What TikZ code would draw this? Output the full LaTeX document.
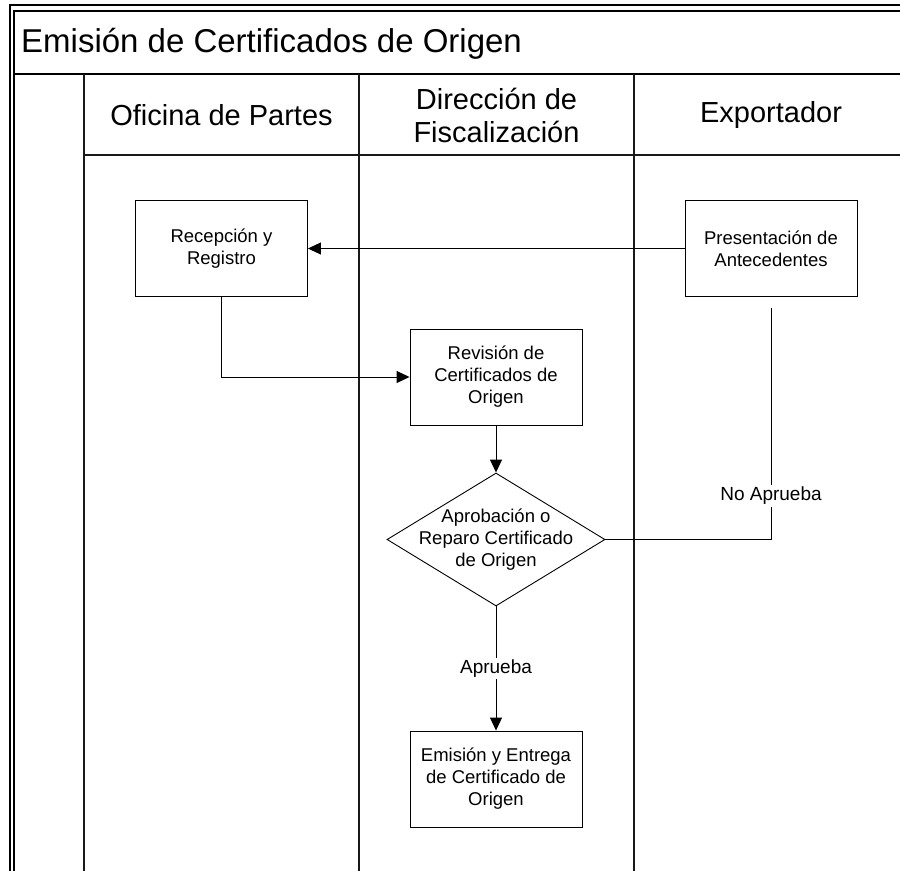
\documentclass[tikz,border=0pt]{standalone}
\usepackage{fontspec}
\setmainfont{Liberation Sans}
\usetikzlibrary{arrows.meta,shapes.geometric}
\begin{document}
\begin{tikzpicture}[x=1bp,y=-1bp,
  frameline/.style={line width=1.3bp,black},
  laneline/.style={line width=1.1bp,black!90},
  box/.style={draw,line width=0.9bp,minimum width=172bp,minimum height=96bp,align=center,
    font=\fontsize{18.5bp}{22bp}\selectfont,inner sep=0pt},
  decision/.style={diamond,draw,line width=0.9bp,minimum width=218bp,minimum height=133bp,inner sep=0pt},
  boxtext/.style={align=center,font=\fontsize{18.5bp}{22bp}\selectfont,inner sep=0pt},
  header/.style={align=center,font=\fontsize{29bp}{33bp}\selectfont,inner sep=0pt},
  lbl/.style={fill=white,font=\fontsize{19bp}{22bp}\selectfont,inner sep=2bp},
  arr/.style={line width=0.9bp,-{Triangle[length=13bp,width=12bp]}},
  conn/.style={line width=0.9bp}
]
\useasboundingbox (0,0) rectangle (900,871);
\clip (0,0) rectangle (900,871);
\fill[white] (0,0) rectangle (900,871);
% frame
\draw[frameline] (10,930) -- (10,5) -- (950,5);
\draw[frameline] (14,930) -- (14,11) -- (950,11);
\draw[frameline] (14,74) -- (950,74);
\draw[laneline] (84,74) -- (84,930);
\draw[laneline] (84,155) -- (950,155);
\draw[laneline] (359,74) -- (359,930);
\draw[laneline] (634,74) -- (634,930);
% title and headers
\node[anchor=base west,inner sep=0pt,font=\fontsize{33bp}{37bp}\selectfont] (title) at (21,52) {Emisión de Certificados de Origen};
\node[header] (h1) at (221.5,115) {Oficina de Partes};
\node[header] (h2) at (496.5,115) {Dirección de\\Fiscalización};
\node[header] (h3) at (771,115) {Exportador};
% process nodes
\node[box] (rec) at (221.5,248.5) {Recepción y\\Registro};
\node[box] (pres) at (771,248.5) {Presentación de\\Antecedentes};
\node[box] (rev) at (496,377) {Revisión de\\Certificados de\\Origen};
\node[decision] (dia) at (496,539.5) {};
\node[boxtext] (diatext) at (dia.center) {Aprobación o\\Reparo Certificado\\de Origen};
\node[box] (emi) at (496,779) {Emisión y Entrega\\de Certificado de\\Origen};
\coordinate (noend) at (771,308);
% connectors
\draw[arr] (pres.west) -- (rec.east);
\draw[arr] (rec.south) |- (rev.west);
\draw[arr] (rev.south) -- (dia.north);
\draw[arr] (dia.south) -- node[lbl] (ap) {Aprueba} (emi.north);
\draw[conn] (dia.east) -| (noend);
\node[lbl] (nap) at (771,496) {No Aprueba};
\end{tikzpicture}
\end{document}
